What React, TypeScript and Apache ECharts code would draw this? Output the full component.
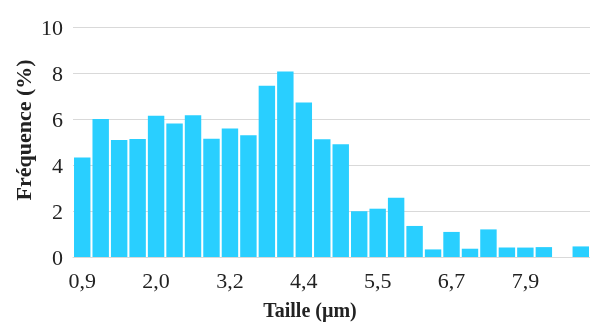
import React, { useEffect, useRef } from "react";
import * as echarts from "echarts";

const categories = ["0,9","1,2","1,5","1,7","2,0","2,3","2,6","2,9","3,2","3,5","3,8","4,1","4,4","4,6","4,9","5,2","5,5","5,8","6,1","6,4","6,7","7,0","7,3","7,6","7,9","8,2","8,5","8,8"];
const frequencies = [4.33, 6.0, 5.09, 5.13, 6.14, 5.8, 6.16, 5.14, 5.59, 5.29, 7.45, 8.06, 6.72, 5.12, 4.9, 1.99, 2.1, 2.58, 1.35, 0.33, 1.09, 0.36, 1.2, 0.41, 0.41, 0.43, 0, 0.46];
const yTicks = { min: 0, max: 10, interval: 2 };
const yTitle = "Fréquence (%)";
const xTitle = "Taille (µm)";

export default function App() {
  const ref = useRef<HTMLDivElement>(null);
  useEffect(() => {
    if (!ref.current) return;
    const chart = echarts.init(ref.current, null, { renderer: "svg" });
    const serif = "'Liberation Serif', 'Times New Roman', serif";
    chart.setOption({
      animation: false,
      grid: { left: 73, right: -3, top: 27, bottom: 66 },
      xAxis: {
        type: "category",
        data: categories,
        axisTick: { show: false },
        axisLine: { lineStyle: { color: "#d9d9d9" } },
        axisLabel: { interval: 3, color: "#222", fontFamily: serif, fontSize: 22, margin: 12 },
      },
      yAxis: {
        type: "value",
        min: yTicks.min,
        max: yTicks.max,
        interval: yTicks.interval,
        splitLine: { lineStyle: { color: "#d9d9d9" } },
        axisLabel: { color: "#222", fontFamily: serif, fontSize: 22, margin: 10 },
      },
      graphic: [
        {
          type: "text",
          x: 23,
          y: 130,
          rotation: Math.PI / 2,
          style: { text: yTitle, font: `bold 22px ${serif}`, fill: "#222", align: "center", verticalAlign: "middle" },
        },
        {
          type: "text",
          x: 310,
          y: 310,
          style: { text: xTitle, font: `bold 20px ${serif}`, fill: "#222", align: "center", verticalAlign: "middle" },
        },
      ],
      series: [
        {
          type: "bar",
          data: frequencies,
          barCategoryGap: "11%",
          itemStyle: { color: "#29CFFF" },
        },
      ],
    });
    return () => chart.dispose();
  }, []);
  return <div ref={ref} style={{ position: "fixed", left: 0, top: 0, width: 590, height: 323 }} />;
}
